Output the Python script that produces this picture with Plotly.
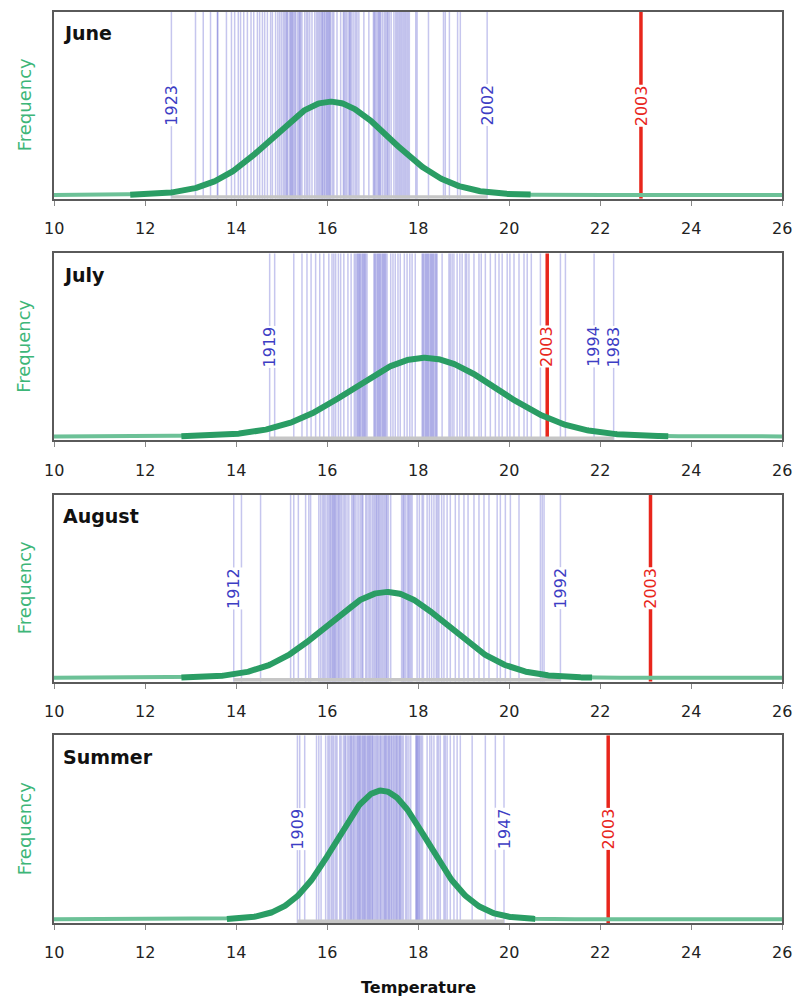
import numpy as np
import plotly.graph_objects as go
from plotly.subplots import make_subplots

# ---- Data: mean temperature of each year (°C), one list per period ----
panel_names = ["June", "July", "August", "Summer"]

june_temps = [
    13.11, 13.28, 13.44, 13.59, 13.60, 13.79, 13.90, 13.97, 14.05, 14.10, 14.17,
    14.25, 14.33, 14.39, 14.47, 14.52, 14.58, 14.63, 14.69, 14.76, 14.80, 14.87,
    14.92, 14.96, 15.00, 15.04, 15.07, 15.10, 15.12, 15.14, 15.18, 15.20, 15.22,
    15.24, 15.26, 15.29, 15.31, 15.35, 15.38, 15.40, 15.42, 15.45, 15.51, 15.55,
    15.58, 15.62, 15.67, 15.73, 15.77, 15.80, 15.83, 15.86, 15.89, 15.90, 15.93,
    15.95, 15.98, 16.00, 16.02, 16.04, 16.06, 16.08, 16.12, 16.15, 16.22, 16.30,
    16.36, 16.38, 16.41, 16.44, 16.48, 16.50, 16.52, 16.55, 16.59, 16.63, 16.66,
    16.70, 16.81, 16.92, 17.02, 17.04, 17.06, 17.09, 17.12, 17.14, 17.16, 17.18,
    17.22, 17.26, 17.29, 17.32, 17.34, 17.37, 17.41, 17.47, 17.51, 17.54, 17.57,
    17.60, 17.63, 17.66, 17.69, 17.72, 17.75, 17.78, 17.81, 17.95, 17.98, 18.23,
    18.56, 18.60, 18.69, 18.87, 18.93,
]
july_temps = [
    14.85, 15.27, 15.45, 15.56, 15.65, 15.75, 15.84, 15.93, 16.04, 16.11, 16.15,
    16.19, 16.25, 16.30, 16.37, 16.46, 16.53, 16.60, 16.63, 16.66, 16.68, 16.70,
    16.72, 16.74, 16.77, 16.79, 16.81, 16.83, 16.85, 16.88, 17.03, 17.05, 17.07,
    17.10, 17.12, 17.14, 17.16, 17.18, 17.21, 17.23, 17.25, 17.27, 17.29, 17.32,
    17.40, 17.45, 17.50, 17.56, 17.61, 17.70, 17.76, 17.82, 17.87, 17.94, 18.09,
    18.11, 18.13, 18.16, 18.18, 18.20, 18.22, 18.24, 18.27, 18.29, 18.31, 18.33,
    18.35, 18.38, 18.40, 18.42, 18.53, 18.68, 18.71, 18.75, 18.79, 18.86, 18.92,
    18.97, 19.04, 19.07, 19.12, 19.23, 19.34, 19.39, 19.48, 19.59, 19.70, 19.78,
    19.85, 19.96, 20.02, 20.11, 20.22, 20.33, 20.40, 20.49, 20.69, 21.13, 21.24,
]
august_temps = [
    14.12, 14.54, 15.20, 15.27, 15.37, 15.53, 15.60, 15.64, 15.82, 15.86, 15.90,
    15.93, 15.96, 16.00, 16.03, 16.06, 16.08, 16.11, 16.13, 16.15, 16.17, 16.19,
    16.22, 16.25, 16.27, 16.30, 16.33, 16.37, 16.40, 16.44, 16.48, 16.54, 16.57,
    16.59, 16.62, 16.66, 16.70, 16.74, 16.77, 16.79, 16.85, 16.88, 16.92, 16.95,
    16.99, 17.02, 17.05, 17.08, 17.10, 17.13, 17.15, 17.18, 17.21, 17.24, 17.27,
    17.30, 17.32, 17.35, 17.40, 17.64, 17.67, 17.69, 17.72, 17.76, 17.79, 17.81,
    17.84, 17.87, 17.98, 18.03, 18.09, 18.12, 18.20, 18.25, 18.30, 18.35, 18.40,
    18.43, 18.46, 18.52, 18.57, 18.64, 18.71, 18.82, 18.90, 19.01, 19.10, 19.23,
    19.34, 19.45, 19.56, 19.74, 19.81, 19.92, 20.03, 20.22, 20.69, 20.73, 20.77,
]
summer_temps = [
    15.40, 15.51, 15.77, 15.82, 15.87, 15.97, 16.02, 16.05, 16.09, 16.12, 16.15,
    16.19, 16.22, 16.28, 16.31, 16.36, 16.39, 16.41, 16.45, 16.48, 16.51, 16.53,
    16.55, 16.58, 16.60, 16.63, 16.66, 16.68, 16.70, 16.72, 16.74, 16.77, 16.79,
    16.81, 16.83, 16.85, 16.88, 16.90, 16.92, 16.94, 16.96, 16.99, 17.00, 17.03,
    17.06, 17.09, 17.11, 17.14, 17.17, 17.19, 17.22, 17.25, 17.27, 17.29, 17.31,
    17.34, 17.36, 17.38, 17.41, 17.43, 17.46, 17.48, 17.51, 17.53, 17.55, 17.58,
    17.60, 17.62, 17.65, 17.68, 17.73, 17.76, 17.80, 17.84, 17.95, 17.97, 17.98,
    18.00, 18.02, 18.04, 18.07, 18.10, 18.20, 18.26, 18.30, 18.35, 18.42, 18.45,
    18.49, 18.57, 18.60, 18.64, 18.71, 18.79, 18.86, 18.93, 19.19, 19.48, 19.70,
]

# Extreme years that carry a label, with their temperatures
june_label_years = ["1923", "2002"]
june_label_temps = [12.58, 19.52]
july_label_years = ["1919", "1994", "1983"]
july_label_temps = [14.74, 21.87, 22.30]
august_label_years = ["1912", "1992"]
august_label_temps = [13.95, 21.13]
summer_label_years = ["1909", "1947"]
summer_label_temps = [15.35, 19.89]

# The 2003 value in each period
year_2003_temps = [22.90, 20.84, 23.11, 22.18]

# Fitted normal distribution: mean, standard deviation, peak height (0-1)
fit_means = [16.08, 18.15, 17.32, 17.20]
fit_sds = [1.30, 1.58, 1.33, 1.00]
fit_peaks = [0.51, 0.43, 0.47, 0.70]

x_ticks = [10, 12, 14, 16, 18, 20, 22, 24, 26]

all_temps = [june_temps, july_temps, august_temps, summer_temps]
all_label_years = [june_label_years, july_label_years, august_label_years, summer_label_years]
all_label_temps = [june_label_temps, july_label_temps, august_label_temps, summer_label_temps]

# ---- Figure ----
W, H = 795, 1000
M_L, M_R, M_T, M_B = 54, 13, 10, 77
plot_w = W - M_L - M_R
plot_h = H - M_T - M_B

# panel tops / bottoms in page pixels
panel_px = [(10, 197), (252, 439), (494, 681), (735, 923)]

fig = make_subplots(rows=4, cols=1)

Y0 = -0.02
YMAX = 1.0

BLUE_LINE = "rgba(66,66,198,0.30)"
BLUE_TEXT = "#3d3dc4"
RED = "#e8261c"
GREEN = "#2a9d64"
GREEN_LIGHT = "#6cc197"
GREY_BASE = "#c6c6c6"
FONT = "DejaVu Sans"

for i in range(4):
    r = i + 1
    xa = "x" if r == 1 else f"x{r}"
    ya = "y" if r == 1 else f"y{r}"
    temps = all_temps[i] + all_label_temps[i]

    # yearly values as thin vertical lines
    for t in temps:
        fig.add_shape(type="line", xref=xa, yref=f"{ya} domain",
                      x0=t, x1=t, y0=0, y1=1, layer="below",
                      line=dict(color=BLUE_LINE, width=1.5))
    # 2003 in red
    fig.add_shape(type="line", xref=xa, yref=f"{ya} domain",
                  x0=year_2003_temps[i], x1=year_2003_temps[i], y0=0, y1=1,
                  layer="below", line=dict(color=RED, width=3.5))

    # grey baseline over the observed range
    fig.add_trace(go.Scatter(x=[min(temps), max(temps)], y=[-0.012, -0.012],
                             mode="lines", line=dict(color=GREY_BASE, width=4),
                             hoverinfo="skip", showlegend=False), row=r, col=1)

    # fitted normal curve
    mu, sd, pk = fit_means[i], fit_sds[i], fit_peaks[i]
    xs = np.linspace(10, 26, 641)
    ys = pk * np.exp(-0.5 * ((xs - mu) / sd) ** 2)
    fig.add_trace(go.Scatter(x=xs, y=ys, mode="lines",
                             line=dict(color=GREEN_LIGHT, width=4),
                             hoverinfo="skip", showlegend=False), row=r, col=1)
    core = np.abs(xs - mu) <= 3.4 * sd
    fig.add_trace(go.Scatter(x=xs[core], y=ys[core], mode="lines",
                             line=dict(color=GREEN, width=6),
                             hoverinfo="skip", showlegend=False), row=r, col=1)

    # year labels
    for yr, t in zip(all_label_years[i], all_label_temps[i]):
        fig.add_annotation(x=t, xref=xa, y=0.5, yref=f"{ya} domain",
                           text=yr, textangle=-90, showarrow=False,
                           bgcolor="white", borderpad=0,
                           font=dict(family=FONT, size=16, color=BLUE_TEXT))
    fig.add_annotation(x=year_2003_temps[i], xref=xa, y=0.5, yref=f"{ya} domain",
                       text="2003", textangle=-90, showarrow=False,
                       bgcolor="white", borderpad=0,
                       font=dict(family=FONT, size=16, color=RED))

    # temperature tick labels under the panel
    for v in x_ticks:
        fig.add_annotation(x=v, xref=xa, y=0, yref=f"{ya} domain",
                           yanchor="middle", yshift=-30, text=str(v),
                           showarrow=False,
                           font=dict(family=FONT, size=16, color="#222222"))

    # panel title
    fig.add_annotation(x=0.009, xref=f"{xa} domain", y=0.885, yref=f"{ya} domain",
                       xanchor="left", yanchor="middle", text=panel_names[i],
                       showarrow=False,
                       font=dict(family=FONT, size=19, color="#111111", weight="bold"))

    # y-axis caption
    fig.add_annotation(x=(24 - M_L) / plot_w, xref="paper", xanchor="center",
                       y=0.5, yref=f"{ya} domain", yanchor="middle", text="Frequency",
                       textangle=-90, showarrow=False,
                       font=dict(family=FONT, size=18, color="#3db678"))

    top, bot = panel_px[i]
    dom = [(H - M_B - bot) / plot_h, (H - M_B - top) / plot_h]
    xkey = "xaxis" if r == 1 else f"xaxis{r}"
    ykey = "yaxis" if r == 1 else f"yaxis{r}"
    fig.layout[xkey].update(
        range=[10, 26], domain=[0, 1], tickvals=x_ticks, showticklabels=False,
        ticks="outside", ticklen=5, tickwidth=1, tickcolor="#888888",
        showgrid=False, zeroline=False, showline=True, mirror=True,
        linecolor="#5a5a5a", linewidth=2)
    fig.layout[ykey].update(
        range=[Y0, YMAX], domain=dom, showticklabels=False, ticks="",
        showgrid=False, zeroline=False, showline=True, mirror=True,
        linecolor="#5a5a5a", linewidth=2)

fig.add_annotation(x=0.5, xref="paper", y=-(988 - (H - M_B)) / plot_h, yref="paper",
                   text="Temperature", showarrow=False, yanchor="middle",
                   font=dict(family=FONT, size=16, color="#111111", weight="bold"))

fig.update_layout(width=W, height=H, margin=dict(l=M_L, r=M_R, t=M_T, b=M_B),
                  plot_bgcolor="white", paper_bgcolor="white", showlegend=False)

fig.write_html("out.html")
